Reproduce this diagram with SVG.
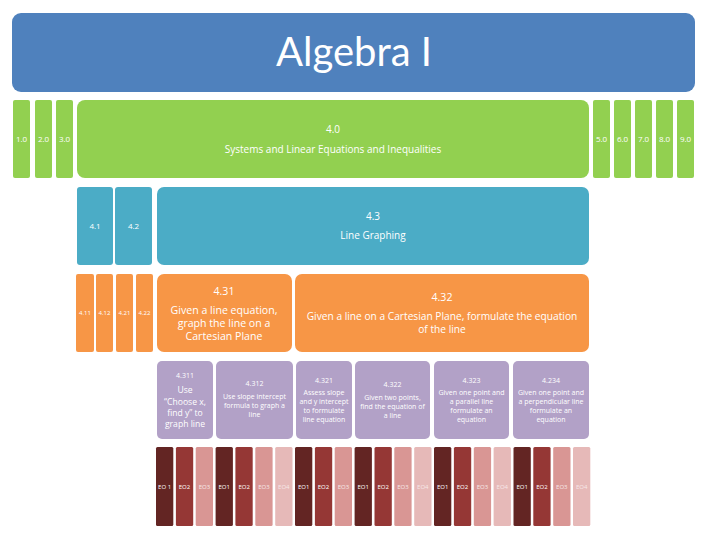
<svg xmlns="http://www.w3.org/2000/svg" width="720" height="540" viewBox="0 0 720 540">
<style>
text{font-family:"Open Sans","Liberation Sans",sans-serif;fill:#ffffff;text-anchor:middle}
.g{fill:#92D050}.b{fill:#4BACC6}.o{fill:#F79646}.p{fill:#B2A1C7}
.e1{fill:#632523}.e2{fill:#953735}.e3{fill:#D99694}.e4{fill:#E6B9B8}
.s6{font-size:6px}.s7{font-size:7px}.s8{font-size:8px}.s9{font-size:8.6px}.s10{font-size:10px}.s11{font-size:10.6px}.s32{font-size:10.2px}
.lt{fill:#f6e8e8}
</style>
<rect width="720" height="540" fill="#ffffff"/>
<g id="title"><rect x="12" y="13" width="683" height="79" rx="9" fill="#4F81BD"/><text x="354" y="66" style="font-size:40px;font-family:Lato,'Open Sans',sans-serif">Algebra I</text></g>

<g id="row-green">
<g id="n1_0"><rect class="g" x="13" y="100" width="17" height="78" rx="2"/><text class="s8" x="21.5" y="142">1.0</text></g>
<g id="n2_0"><rect class="g" x="35" y="100" width="17" height="78" rx="2"/><text class="s8" x="43.5" y="142">2.0</text></g>
<g id="n3_0"><rect class="g" x="56" y="100" width="17" height="78" rx="2"/><text class="s8" x="64.5" y="142">3.0</text></g>
<g id="n4_0"><rect class="g" x="77" y="100" width="512" height="78" rx="8"/><text class="s10" x="333" y="133">4.0</text><text class="s10" x="333" y="153">Systems and Linear Equations and Inequalities</text></g>
<g id="n5_0"><rect class="g" x="593" y="100" width="17" height="78" rx="2"/><text class="s8" x="601.5" y="142">5.0</text></g>
<g id="n6_0"><rect class="g" x="614" y="100" width="17" height="78" rx="2"/><text class="s8" x="622.5" y="142">6.0</text></g>
<g id="n7_0"><rect class="g" x="635" y="100" width="17" height="78" rx="2"/><text class="s8" x="643.5" y="142">7.0</text></g>
<g id="n8_0"><rect class="g" x="656" y="100" width="17" height="78" rx="2"/><text class="s8" x="664.5" y="142">8.0</text></g>
<g id="n9_0"><rect class="g" x="677" y="100" width="17" height="78" rx="2"/><text class="s8" x="685.5" y="142">9.0</text></g>
</g>

<g id="row-blue">
<g id="n4_1"><rect class="b" x="77" y="187" width="36" height="78" rx="3"/><text class="s8" x="95" y="229">4.1</text></g>
<g id="n4_2"><rect class="b" x="115" y="187" width="37" height="78" rx="3"/><text class="s8" x="133.5" y="229">4.2</text></g>
<g id="n4_3"><rect class="b" x="157" y="187" width="432" height="78" rx="7"/><text class="s10" x="373" y="220">4.3</text><text class="s10" x="373" y="239">Line Graphing</text></g>
</g>

<g id="row-orange">
<g id="n4_11"><rect class="o" x="76" y="274" width="18" height="78" rx="2"/><text class="s6" x="85" y="315">4.11</text></g>
<g id="n4_12"><rect class="o" x="96" y="274" width="17" height="78" rx="2"/><text class="s6" x="104.5" y="315">4.12</text></g>
<g id="n4_21"><rect class="o" x="116" y="274" width="17" height="78" rx="2"/><text class="s6" x="124.5" y="315">4.21</text></g>
<g id="n4_22"><rect class="o" x="136" y="274" width="17" height="78" rx="2"/><text class="s6" x="144.5" y="315">4.22</text></g>
<g id="n4_31"><rect class="o" x="157" y="274" width="135" height="78" rx="7"/><text class="s11" x="224" y="295">4.31</text><text class="s11" x="224" y="314">Given a  line equation,</text><text class="s11" x="224" y="327">graph the line on a</text><text class="s11" x="224" y="340">Cartesian Plane</text></g>
<g id="n4_32"><rect class="o" x="295" y="274" width="294" height="78" rx="7"/><text class="s11" x="442" y="301">4.32</text><text class="s32" x="442" y="320">Given a line on a Cartesian Plane, formulate the equation</text><text class="s32" x="442" y="333">of the line</text></g>
</g>

<g id="row-purple">
<g id="n4_311"><rect class="p" x="157" y="361" width="56" height="78" rx="5"/><text class="s7" x="185" y="378">4.311</text><text class="s9" x="185" y="393">Use</text><text class="s9" x="185" y="405">“Choose x,</text><text class="s9" x="185" y="416">find y” to</text><text class="s9" x="185" y="427">graph line</text></g>
<g id="n4_312"><rect class="p" x="216" y="361" width="77" height="78" rx="5"/><text class="s7" x="254.5" y="386">4.312</text><text class="s7" x="254.5" y="399">Use slope intercept</text><text class="s7" x="254.5" y="408">formula to graph a</text><text class="s7" x="254.5" y="417">line</text></g>
<g id="n4_321"><rect class="p" x="296" y="361" width="56" height="78" rx="5"/><text class="s7" x="324" y="383">4.321</text><text class="s7" x="324" y="395">Assess slope</text><text class="s7" x="324" y="404">and y intercept</text><text class="s7" x="324" y="413">to formulate</text><text class="s7" x="324" y="422">line equation</text></g>
<g id="n4_322"><rect class="p" x="355" y="361" width="75" height="78" rx="5"/><text class="s7" x="392.5" y="387">4.322</text><text class="s7" x="392.5" y="400">Given two points,</text><text class="s7" x="392.5" y="409">find the equation of</text><text class="s7" x="392.5" y="418">a line</text></g>
<g id="n4_323"><rect class="p" x="434" y="361" width="75" height="78" rx="5"/><text class="s7" x="471.5" y="383">4.323</text><text class="s7" x="471.5" y="395">Given one point and</text><text class="s7" x="471.5" y="404">a parallel line</text><text class="s7" x="471.5" y="413">formulate an</text><text class="s7" x="471.5" y="422">equation</text></g>
<g id="n4_234"><rect class="p" x="513" y="361" width="76" height="78" rx="5"/><text class="s7" x="551" y="383">4.234</text><text class="s7" x="551" y="395">Given one point and</text><text class="s7" x="551" y="404">a perpendicular line</text><text class="s7" x="551" y="413">formulate an</text><text class="s7" x="551" y="422">equation</text></g>
</g>

<g id="row-eo">
<g id="eo0"><rect class="e1" x="156" y="447" width="17.3" height="79" rx="1.5"/><text class="s6" x="164.6" y="489">EO 1</text></g>
<g id="eo1"><rect class="e2" x="175.9" y="447" width="17.3" height="79" rx="1.5"/><text class="s6" x="184.5" y="489">EO2</text></g>
<g id="eo2"><rect class="e3" x="195.7" y="447" width="17.3" height="79" rx="1.5"/><text class="s6 lt" x="204.4" y="489">EO3</text></g>
<g id="eo3"><rect class="e1" x="215.6" y="447" width="17.3" height="79" rx="1.5"/><text class="s6" x="224.2" y="489">EO1</text></g>
<g id="eo4"><rect class="e2" x="235.4" y="447" width="17.3" height="79" rx="1.5"/><text class="s6" x="244.1" y="489">EO2</text></g>
<g id="eo5"><rect class="e3" x="255.3" y="447" width="17.3" height="79" rx="1.5"/><text class="s6 lt" x="263.9" y="489">EO3</text></g>
<g id="eo6"><rect class="e4" x="275.2" y="447" width="17.3" height="79" rx="1.5"/><text class="s6 lt" x="283.8" y="489">EO4</text></g>
<g id="eo7"><rect class="e1" x="295" y="447" width="17.3" height="79" rx="1.5"/><text class="s6" x="303.7" y="489">EO1</text></g>
<g id="eo8"><rect class="e2" x="314.9" y="447" width="17.3" height="79" rx="1.5"/><text class="s6" x="323.5" y="489">EO2</text></g>
<g id="eo9"><rect class="e3" x="334.7" y="447" width="17.3" height="79" rx="1.5"/><text class="s6 lt" x="343.4" y="489">EO3</text></g>
<g id="eo10"><rect class="e1" x="354.6" y="447" width="17.3" height="79" rx="1.5"/><text class="s6" x="363.2" y="489">EO1</text></g>
<g id="eo11"><rect class="e2" x="374.5" y="447" width="17.3" height="79" rx="1.5"/><text class="s6" x="383.1" y="489">EO2</text></g>
<g id="eo12"><rect class="e3" x="394.3" y="447" width="17.3" height="79" rx="1.5"/><text class="s6 lt" x="403" y="489">EO3</text></g>
<g id="eo13"><rect class="e4" x="414.2" y="447" width="17.3" height="79" rx="1.5"/><text class="s6 lt" x="422.8" y="489">EO4</text></g>
<g id="eo14"><rect class="e1" x="434" y="447" width="17.3" height="79" rx="1.5"/><text class="s6" x="442.7" y="489">EO1</text></g>
<g id="eo15"><rect class="e2" x="453.9" y="447" width="17.3" height="79" rx="1.5"/><text class="s6" x="462.5" y="489">EO2</text></g>
<g id="eo16"><rect class="e3" x="473.8" y="447" width="17.3" height="79" rx="1.5"/><text class="s6 lt" x="482.4" y="489">EO3</text></g>
<g id="eo17"><rect class="e4" x="493.6" y="447" width="17.3" height="79" rx="1.5"/><text class="s6 lt" x="502.3" y="489">EO4</text></g>
<g id="eo18"><rect class="e1" x="513.5" y="447" width="17.3" height="79" rx="1.5"/><text class="s6" x="522.1" y="489">EO1</text></g>
<g id="eo19"><rect class="e2" x="533.3" y="447" width="17.3" height="79" rx="1.5"/><text class="s6" x="542" y="489">EO2</text></g>
<g id="eo20"><rect class="e3" x="553.2" y="447" width="17.3" height="79" rx="1.5"/><text class="s6 lt" x="561.8" y="489">EO3</text></g>
<g id="eo21"><rect class="e4" x="573" y="447" width="17.3" height="79" rx="1.5"/><text class="s6 lt" x="581.7" y="489">EO4</text></g>
</g>
<g id="connectors"/>
</svg>
